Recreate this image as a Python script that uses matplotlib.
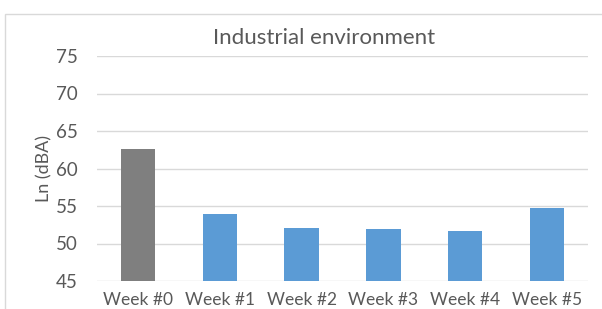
import matplotlib.pyplot as plt
from matplotlib.patches import Rectangle

# data
weeks = ["Week #0", "Week #1", "Week #2", "Week #3", "Week #4", "Week #5"]
ln_dba = [62.6, 53.9, 52.1, 52.0, 51.7, 54.8]
bar_colors = ["#7f7f7f", "#5b9bd5", "#5b9bd5", "#5b9bd5", "#5b9bd5", "#5b9bd5"]
yticks = [45, 50, 55, 60, 65, 70, 75]

plt.rcParams['font.family'] = ['Lato', 'DejaVu Sans']
txt = "#595959"

fig = plt.figure(figsize=(6.02, 3.09), dpi=100)
# chart border (Excel-like frame)
fig.patches.append(Rectangle((5/602, -0.1), 1.0, 1.1 - 14/309,
                             transform=fig.transFigure, fill=False,
                             edgecolor="#d9d9d9", linewidth=1.0))

ax = fig.add_axes([97/602, 1 - 281/309, (588 - 97)/602, (281 - 56)/309])
ax.bar(weeks, ln_dba, width=0.42, color=bar_colors, zorder=3)

ax.set_ylim(45, 75)
ax.set_yticks(yticks)
ax.set_xlim(-0.5, len(weeks) - 0.5)
ax.grid(axis="y", color="#d9d9d9", linewidth=1.0, zorder=0)
for s in ax.spines.values():
    s.set_visible(False)
ax.tick_params(axis="both", length=0, colors=txt)
ax.tick_params(axis="y", pad=14, labelsize=13.5)
ax.tick_params(axis="x", pad=8, labelsize=12.5)

ax.set_ylabel("Ln (dBA)", fontsize=13, color=txt, labelpad=2)
fig.text(324/602, 1 - 38/309, "Industrial environment", ha="center", va="center",
         fontsize=16, color=txt)

fig.savefig("out.png", dpi=100)
